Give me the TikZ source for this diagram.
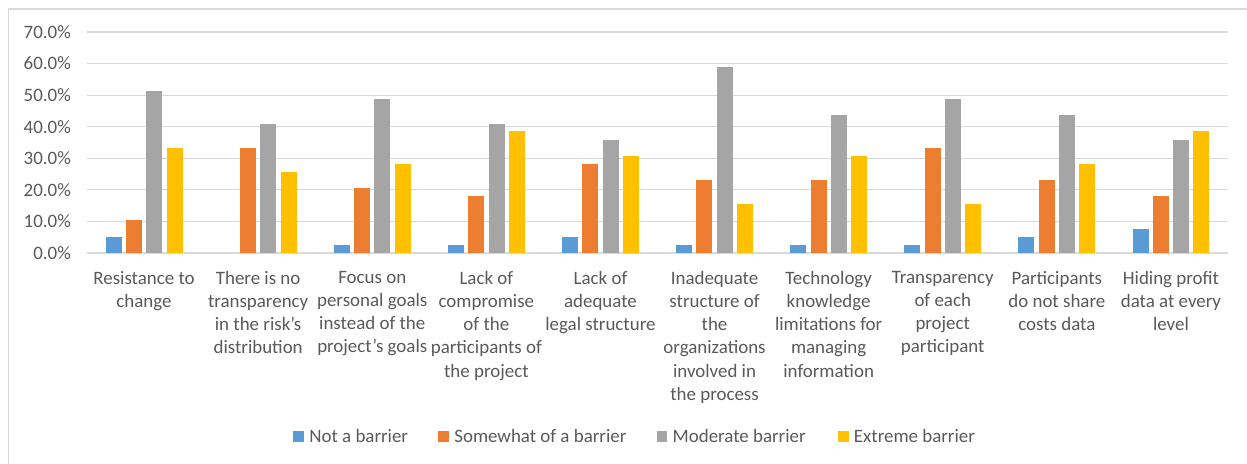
\documentclass[tikz,border=0pt]{standalone}
\usepackage{fontspec}
\setmainfont{Carlito}
\usetikzlibrary{positioning}
\definecolor{notbar}{HTML}{5B9BD5}
\definecolor{somebar}{HTML}{ED7D31}
\definecolor{modbar}{HTML}{A5A5A5}
\definecolor{extbar}{HTML}{FFC000}
\definecolor{gridgray}{HTML}{D9D9D9}
\definecolor{labgray}{HTML}{595959}

\begin{document}
\begin{tikzpicture}[x=1bp, y=1bp,
        grid/.style={gridgray, line width=1.2bp},
        tick/.style={anchor=east, inner sep=0pt, text=labgray, font=\fontsize{19}{23}\selectfont},
        cat/.style={anchor=north, align=center, inner sep=0pt, text=labgray, font=\fontsize{19}{23.3}\selectfont},
        legsq/.style={minimum size=10.5bp, inner sep=0pt},
        legtxt/.style={inner sep=0pt, text=labgray, font=\fontsize{19}{23}\selectfont}]
        \clip (0,-211) rectangle (1247,253);
        \draw[gridgray, line width=1.5bp] (8.5,244) rectangle (1270,-240);

        \draw[grid] (87,0) -- (1228,0);
        \draw[grid] (87,31.57) -- (1228,31.57);
        \draw[grid] (87,63.14) -- (1228,63.14);
        \draw[grid] (87,94.71) -- (1228,94.71);
        \draw[grid] (87,126.28) -- (1228,126.28);
        \draw[grid] (87,157.85) -- (1228,157.85);
        \draw[grid] (87,189.42) -- (1228,189.42);
        \draw[grid] (87,221) -- (1228,221);
        \node[tick] (t0) at (71,0) {0.0\%};
        \node[tick] (t10) at (71,31.57) {10.0\%};
        \node[tick] (t20) at (71,63.14) {20.0\%};
        \node[tick] (t30) at (71,94.71) {30.0\%};
        \node[tick] (t40) at (71,126.28) {40.0\%};
        \node[tick] (t50) at (71,157.85) {50.0\%};
        \node[tick] (t60) at (71,189.42) {60.0\%};
        \node[tick] (t70) at (71,221) {70.0\%};

        \begin{scope}[xshift=144.05bp, yscale=3.157]
            \fill[notbar] (-38.45,0) rectangle ++(16,5.1);
            \fill[somebar] (-18.15,0) rectangle ++(16,10.3);
            \fill[modbar] (2.15,0) rectangle ++(16,51.3);
            \fill[extbar] (22.45,0) rectangle ++(16,33.3);
        \end{scope}
        \begin{scope}[xshift=258.15bp, yscale=3.157]
            \fill[somebar] (-18.15,0) rectangle ++(16,33.3);
            \fill[modbar] (2.15,0) rectangle ++(16,41.0);
            \fill[extbar] (22.45,0) rectangle ++(16,25.6);
        \end{scope}
        \begin{scope}[xshift=372.25bp, yscale=3.157]
            \fill[notbar] (-38.45,0) rectangle ++(16,2.6);
            \fill[somebar] (-18.15,0) rectangle ++(16,20.5);
            \fill[modbar] (2.15,0) rectangle ++(16,48.7);
            \fill[extbar] (22.45,0) rectangle ++(16,28.2);
        \end{scope}
        \begin{scope}[xshift=486.35bp, yscale=3.157]
            \fill[notbar] (-38.45,0) rectangle ++(16,2.6);
            \fill[somebar] (-18.15,0) rectangle ++(16,17.9);
            \fill[modbar] (2.15,0) rectangle ++(16,41.0);
            \fill[extbar] (22.45,0) rectangle ++(16,38.5);
        \end{scope}
        \begin{scope}[xshift=600.45bp, yscale=3.157]
            \fill[notbar] (-38.45,0) rectangle ++(16,5.1);
            \fill[somebar] (-18.15,0) rectangle ++(16,28.2);
            \fill[modbar] (2.15,0) rectangle ++(16,35.9);
            \fill[extbar] (22.45,0) rectangle ++(16,30.8);
        \end{scope}
        \begin{scope}[xshift=714.55bp, yscale=3.157]
            \fill[notbar] (-38.45,0) rectangle ++(16,2.6);
            \fill[somebar] (-18.15,0) rectangle ++(16,23.1);
            \fill[modbar] (2.15,0) rectangle ++(16,59.0);
            \fill[extbar] (22.45,0) rectangle ++(16,15.4);
        \end{scope}
        \begin{scope}[xshift=828.65bp, yscale=3.157]
            \fill[notbar] (-38.45,0) rectangle ++(16,2.6);
            \fill[somebar] (-18.15,0) rectangle ++(16,23.1);
            \fill[modbar] (2.15,0) rectangle ++(16,43.6);
            \fill[extbar] (22.45,0) rectangle ++(16,30.8);
        \end{scope}
        \begin{scope}[xshift=942.75bp, yscale=3.157]
            \fill[notbar] (-38.45,0) rectangle ++(16,2.6);
            \fill[somebar] (-18.15,0) rectangle ++(16,33.3);
            \fill[modbar] (2.15,0) rectangle ++(16,48.7);
            \fill[extbar] (22.45,0) rectangle ++(16,15.4);
        \end{scope}
        \begin{scope}[xshift=1056.85bp, yscale=3.157]
            \fill[notbar] (-38.45,0) rectangle ++(16,5.1);
            \fill[somebar] (-18.15,0) rectangle ++(16,23.1);
            \fill[modbar] (2.15,0) rectangle ++(16,43.6);
            \fill[extbar] (22.45,0) rectangle ++(16,28.2);
        \end{scope}
        \begin{scope}[xshift=1170.95bp, yscale=3.157]
            \fill[notbar] (-38.45,0) rectangle ++(16,7.7);
            \fill[somebar] (-18.15,0) rectangle ++(16,17.9);
            \fill[modbar] (2.15,0) rectangle ++(16,35.9);
            \fill[extbar] (22.45,0) rectangle ++(16,38.5);
        \end{scope}

        \node[cat] (resist) at (144.05,-18) {Resistance to\\change};
        \node[cat] (transp) at (258.15,-18) {There is no\\transparency\\in the risk’s\\distribution};
        \node[cat] (focus) at (372.25,-18) {Focus on\\personal goals\\instead of the\\project’s goals};
        \node[cat] (compro) at (486.35,-18) {Lack of\\compromise\\of the\\participants of\\the project};
        \node[cat] (legal) at (600.45,-18) {Lack of\\adequate\\legal structure};
        \node[cat] (inadeq) at (714.55,-18) {Inadequate\\structure of\\the\\organizations\\involved in\\the process};
        \node[cat] (techno) at (828.65,-18) {Technology\\knowledge\\limitations for\\managing\\information};
        \node[cat] (eachp) at (942.75,-18) {Transparency\\of each\\project\\participant};
        \node[cat] (costs) at (1056.85,-18) {Participants\\do not share\\costs data};
        \node[cat] (profit) at (1170.95,-18) {Hiding profit\\data at every\\level};

        \node[legsq, fill=notbar] (knot) at (298.7,-183.5) {};
        \node[legtxt, right=5bp of knot] (lnot) {Not a barrier};
        \node[legsq, fill=somebar] (ksome) at (443.7,-183.5) {};
        \node[legtxt, right=5bp of ksome] (lsome) {Somewhat of a barrier};
        \node[legsq, fill=modbar] (kmod) at (662,-183.5) {};
        \node[legtxt, right=5bp of kmod] (lmod) {Moderate barrier};
        \node[legsq, fill=extbar] (kext) at (843.3,-183.5) {};
        \node[legtxt, right=5bp of kext] (lext) {Extreme barrier};
\end{tikzpicture}
\end{document}
